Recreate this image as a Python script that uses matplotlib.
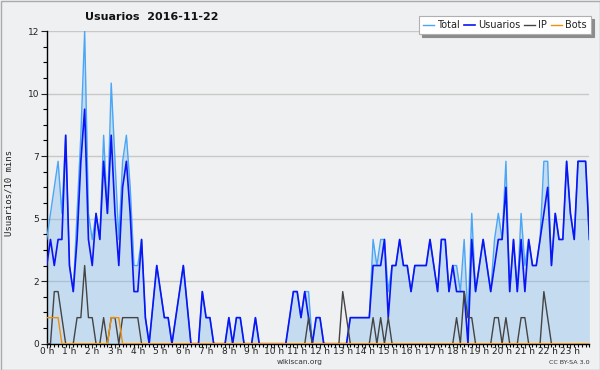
import matplotlib
matplotlib.use("Agg")
import matplotlib.pyplot as plt
from matplotlib.ticker import MultipleLocator
from matplotlib.patches import Rectangle

# ---- data (10-minute slots, 2016-11-22) ----
hours = list(range(24))
hour_labels = [f"{h} h" for h in hours]
ytick_vals = [0, 2.4, 4.8, 7.2, 9.6, 12]
ytick_labels = ["0", "2", "5", "7", "10", "12"]

total = [
    4, 5, 6, 7, 5, 8, 3, 2, 5, 8, 12, 5,
    4, 5, 4, 8, 5, 10, 7, 4, 7, 8, 6, 3,
    3, 4, 1, 0, 1.5, 3, 2, 1, 1, 0, 1, 2,
    3, 1.5, 0, 0, 0, 2, 1, 1, 0, 0, 0, 0,
    1, 0, 1, 1, 0, 0, 0, 1, 0, 0, 0, 0,
    0, 0, 0, 0, 1, 2, 2, 1, 2, 2, 0, 1,
    1, 0, 0, 0, 0, 0, 0, 0, 1, 1, 1, 1,
    1, 1, 4, 3, 4, 4, 2, 3, 3, 4, 3, 3,
    2, 3, 3, 3, 3, 4, 3, 2, 4, 4, 2, 3,
    3, 2, 4, 1, 5, 2, 3, 4, 3, 2, 4, 5,
    4, 7, 2, 4, 2, 5, 3, 4, 3, 3, 4, 7,
    7, 3, 5, 4, 4, 7, 5, 4, 7, 7, 7, 4,
]
usuarios = [
    3, 4, 3, 4, 4, 8, 3, 2, 4, 7, 9, 4,
    3, 5, 4, 7, 5, 8, 5, 3, 6, 7, 5, 2,
    2, 4, 1, 0, 1.5, 3, 2, 1, 1, 0, 1, 2,
    3, 1.5, 0, 0, 0, 2, 1, 1, 0, 0, 0, 0,
    1, 0, 1, 1, 0, 0, 0, 1, 0, 0, 0, 0,
    0, 0, 0, 0, 1, 2, 2, 1, 2, 1, 0, 1,
    1, 0, 0, 0, 0, 0, 0, 0, 1, 1, 1, 1,
    1, 1, 3, 3, 3, 4, 1, 3, 3, 4, 3, 3,
    2, 3, 3, 3, 3, 4, 3, 2, 4, 4, 2, 3,
    2, 2, 2, 0, 4, 2, 3, 4, 3, 2, 3, 4,
    4, 6, 2, 4, 2, 4, 2, 4, 3, 3, 4, 5,
    6, 3, 5, 4, 4, 7, 5, 4, 7, 7, 7, 4,
]
ip = [
    0, 0, 2, 2, 1, 0, 0, 0, 1, 1, 3, 1,
    1, 0, 0, 1, 0, 1, 1, 0, 1, 1, 1, 1,
    1, 0, 0, 0, 0, 0, 0, 0, 0, 0, 0, 0,
    0, 0, 0, 0, 0, 0, 0, 0, 0, 0, 0, 0,
    0, 0, 0, 0, 0, 0, 0, 0, 0, 0, 0, 0,
    0, 0, 0, 0, 0, 0, 0, 0, 0, 1, 0, 0,
    0, 0, 0, 0, 0, 0, 2, 1, 0, 0, 0, 0,
    0, 0, 1, 0, 1, 0, 1, 0, 0, 0, 0, 0,
    0, 0, 0, 0, 0, 0, 0, 0, 0, 0, 0, 0,
    1, 0, 2, 1, 1, 0, 0, 0, 0, 0, 1, 1,
    0, 1, 0, 0, 0, 1, 1, 0, 0, 0, 0, 2,
    1, 0, 0, 0, 0, 0, 0, 0, 0, 0, 0, 0,
]
bots = [
    1, 1, 1, 1, 0, 0, 0, 0, 0, 0, 0, 0,
    0, 0, 0, 0, 0, 1, 1, 1, 0, 0, 0, 0,
    0, 0, 0, 0, 0, 0, 0, 0, 0, 0, 0, 0,
    0, 0, 0, 0, 0, 0, 0, 0, 0, 0, 0, 0,
    0, 0, 0, 0, 0, 0, 0, 0, 0, 0, 0, 0,
    0, 0, 0, 0, 0, 0, 0, 0, 0, 0, 0, 0,
    0, 0, 0, 0, 0, 0, 0, 0, 0, 0, 0, 0,
    0, 0, 0, 0, 0, 0, 0, 0, 0, 0, 0, 0,
    0, 0, 0, 0, 0, 0, 0, 0, 0, 0, 0, 0,
    0, 0, 0, 0, 0, 0, 0, 0, 0, 0, 0, 0,
    0, 0, 0, 0, 0, 0, 0, 0, 0, 0, 0, 0,
    0, 0, 0, 0, 0, 0, 0, 0, 0, 0, 0, 0,
]
slots = list(range(len(total)))

# ---- styling ----
BG = "#eff0f1"
C_TOTAL = "#4aa6f7"
C_FILL = "#64b1ee"
C_USR = "#0a14f5"
C_IP = "#444444"
C_BOTS = "#f0900a"

W, H = 600, 370
fig = plt.figure(figsize=(W / 100, H / 100), dpi=100, facecolor=BG)
x0, x1 = 46.7, 589.4
ytop, ybot = 31.0, 343.7
ax = fig.add_axes([x0 / W, (H - ybot) / H, (x1 - x0) / W, (ybot - ytop) / H])
ax.set_facecolor(BG)

ax.fill_between(slots, total, 0, color=C_FILL, alpha=0.3, lw=0, zorder=1)
l_tot, = ax.plot(slots, total, color=C_TOTAL, lw=1.0, zorder=3, label="Total")
l_usr, = ax.plot(slots, usuarios, color=C_USR, lw=1.2, zorder=4, label="Usuarios")
l_ip, = ax.plot(slots, ip, color=C_IP, lw=1.0, zorder=5, label="IP")
l_bot, = ax.plot(slots, bots, color=C_BOTS, lw=1.0, zorder=6, label="Bots")

ax.set_xlim(0, len(slots) - 1)
ax.set_ylim(0, 12)

ax.set_yticks(ytick_vals)
ax.set_yticklabels(ytick_labels)
ax.yaxis.set_minor_locator(MultipleLocator(0.6))
ax.set_xticks([h * 6 for h in hours])
ax.set_xticklabels(hour_labels)
ax.xaxis.set_minor_locator(MultipleLocator(1))

ax.tick_params(axis="y", which="major", length=4, width=0.8, pad=1.5,
               labelsize=6.5, colors="#222222")
ax.tick_params(axis="y", which="minor", length=3, width=0.8)
ax.tick_params(axis="x", which="major", length=3.2, width=0.8, pad=-0.5,
               labelsize=6.5, colors="#222222")
ax.tick_params(axis="x", which="minor", length=2.2, width=0.8)

for s in ("top", "right"):
    ax.spines[s].set_visible(False)
for s in ("left", "bottom"):
    ax.spines[s].set_color("black")
    ax.spines[s].set_linewidth(1.0)

ax.set_axisbelow(True)
ax.yaxis.grid(True, which="major", color="#c8c8c8", lw=1.0)

# titles / labels
fig.text(85 / W, 1 - 17 / H, "Usuarios  2016-11-22", fontsize=8, fontweight="bold",
         va="center", ha="left", color="#111111")
fig.text(9.5 / W, 1 - 193 / H, "Usuarios/10 mins", rotation=90, fontsize=6.5,
         family="DejaVu Sans Mono", va="center", ha="center", color="#222222")
fig.text(300 / W, 1 - 362 / H, "wikiscan.org", fontsize=5.3, ha="center",
         va="center", color="#333333")
fig.text(590 / W, 1 - 362.5 / H, "CC BY-SA 3.0", fontsize=4.6, ha="right",
         va="center", color="#333333")

leg = fig.legend([l_tot, l_usr, l_ip, l_bot], ["Total", "Usuarios", "IP", "Bots"],
                 loc="upper right", bbox_to_anchor=(591 / W, 1 - 16 / H),
                 bbox_transform=fig.transFigure, ncol=4, fontsize=7,
                 frameon=True, fancybox=False,
                 shadow={"facecolor": "#8c8c8c", "edgecolor": "#8c8c8c", "alpha": 1},
                 handlelength=1.15, handletextpad=0.35, columnspacing=0.35,
                 borderpad=0.42, borderaxespad=0)
leg.get_frame().set_edgecolor("#b0b0b0")
leg.get_frame().set_linewidth(0.8)
leg.get_frame().set_facecolor("white")
for t in leg.get_texts():
    t.set_color("#222222")

# outer border
fig.patches.append(Rectangle((0.5 / W, 0.5 / H), 1 - 1 / W, 1 - 1 / H,
                             transform=fig.transFigure, fill=False,
                             edgecolor="#aaaaaa", lw=1))

fig.savefig("out.png", dpi=100, facecolor=BG)
